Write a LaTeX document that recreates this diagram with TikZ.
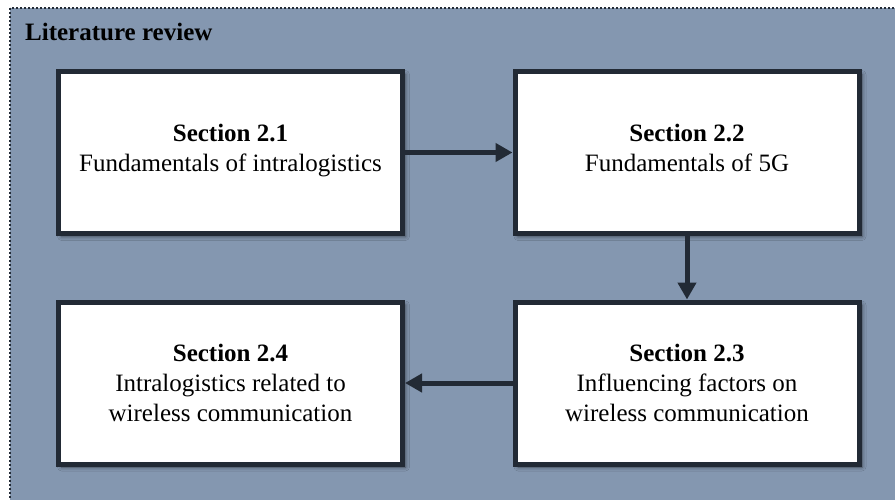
\documentclass[tikz,border=0pt]{standalone}
\usepackage{fontspec}
\setmainfont{Liberation Serif}
\usetikzlibrary{arrows.meta,shadows.blur}
\definecolor{panelfill}{HTML}{8497B0}
\definecolor{inkdark}{HTML}{222A35}
\tikzset{
  secbox/.style={draw=inkdark, fill=white, line width=5pt,
    minimum width=344pt, minimum height=162pt, align=center,
    font=\fontsize{25}{30}\selectfont,
    blur shadow={shadow xshift=3pt, shadow yshift=-3pt,
      shadow blur radius=4pt, shadow opacity=55}},
  flow/.style={draw=inkdark, line width=5pt,
    -{Triangle[length=17pt,width=18pt]}},
}
\begin{document}
\begin{tikzpicture}[x=1pt,y=-1pt]
  \clip (0,0) rectangle (895,499);
  \fill[white] (0,0) rectangle (895,499);
  % outer panel with dotted frame
  \draw[fill=panelfill, draw=inkdark, line width=2pt, dotted]
    (10,8) rectangle (910,520);
  \node[anchor=base west, inner sep=0pt, font=\bfseries\fontsize{25}{30}\selectfont]
    (title) at (25,40) {Literature review};
  % section boxes
  \node[secbox] (s21) at (230.5,152.5)
    {\textbf{Section 2.1}\\Fundamentals of intralogistics\strut};
  \node[secbox] (s22) at (687,152.5)
    {\textbf{Section 2.2}\\Fundamentals of 5G\strut};
  \node[secbox] (s23) at (687,383)
    {\textbf{Section 2.3}\\Influencing factors on\\wireless communication};
  \node[secbox] (s24) at (230.5,383)
    {\textbf{Section 2.4}\\Intralogistics related to\\wireless communication};
  % reading order
  \draw[flow] (s21) -- (s22);
  \draw[flow] (s22) -- (s23);
  \draw[flow] (s23) -- (s24);
\end{tikzpicture}
\end{document}
